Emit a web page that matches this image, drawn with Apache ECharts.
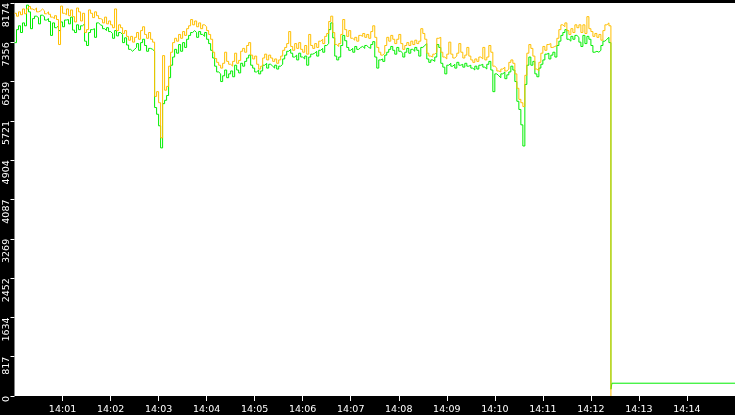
<!DOCTYPE html>
<html>
<head>
<meta charset="utf-8">
<script src="https://cdn.jsdelivr.net/npm/echarts@6/dist/echarts.min.js"></script>
<style>
html,body{margin:0;padding:0;background:#000;}
#chart{width:735px;height:415px;}
</style>
</head>
<body>
<div id="chart"></div>
<script>
// seconds after 14:00:00 between successive samples
const SAMPLE_SEC = 2.5;

// upper (orange) series, one value per sample from 14:00:00
const orangeVals = [
7960,7900,7990,7930,8050,7950,8050,8100,8050,8030,
8070,7990,8010,8050,8010,7950,7990,7940,7880,7850,
7910,7830,7310,8110,7960,7930,8050,7910,8030,7890,
7780,8070,7990,7800,7960,7560,7620,8030,7960,7870,
7990,7910,7850,7830,7760,7880,7740,7800,7720,7660,
8050,7600,7720,7660,7540,7600,7480,7400,7480,7360,
7460,7560,7420,7600,7680,7520,7440,7560,7420,7360,
6230,6330,6100,5370,7080,6360,6440,6860,7150,7350,
7440,7380,7520,7440,7580,7500,7640,7700,7830,7720,
7800,7680,7760,7640,7720,7680,7600,7520,7420,7150,
7020,6940,6880,6820,6920,7150,6960,6900,6860,6960,
7130,6920,6980,7170,7230,7150,7290,7350,7090,7010,
7070,6900,6800,6860,7030,7110,6990,7090,7030,6960,
7010,6920,6990,7070,7190,7250,7330,7580,7270,7190,
7330,7230,7350,7210,7150,7290,7110,7520,7290,7230,
7330,7250,7380,7420,7330,7480,7540,7790,7900,7560,
7310,7270,7330,7520,7830,7620,7480,7600,7440,7400,
7460,7380,7500,7480,7540,7460,7520,7440,7580,7700,
7460,7250,7150,7090,7130,7290,7460,7380,7500,7420,
7330,7420,7520,7330,7210,7290,7350,7290,7380,7310,
7400,7330,7380,7640,7540,7420,7130,7070,7050,7110,
7150,7440,7460,7150,7050,7010,7110,7360,7110,7030,
7070,7130,7330,7150,7030,7090,7250,7070,6990,6940,
7010,6960,7050,7010,7250,6990,7050,7290,7150,6860,
6820,6760,6740,6800,6840,6760,6800,6940,6990,6920,
6700,6400,6170,6100,6020,6670,7130,7310,7230,7070,
6800,6760,6940,7130,7270,7190,7310,7330,7250,7270,
7290,7440,7620,7720,7680,7760,7600,7520,7640,7560,
7720,7660,7720,7560,7720,7540,7890,7640,7580,7480,
7540,7460,7520,7400,7600,7720,7760,7700,0
];

// lower (green) series, same sample times
const greenVals = [
7350,7620,7700,7560,7760,7700,8130,7990,7640,7850,
7900,7870,7740,7920,7890,7820,7850,7790,7500,7760,
7660,7700,7600,7780,7680,7820,7830,7740,7880,7610,
7560,7720,7620,7700,7740,7380,7290,7560,7620,7640,
7460,7760,7720,7700,7640,7600,7660,7580,7540,7440,
7600,7490,7560,7520,7350,7450,7300,7210,7170,7210,
7250,7330,7190,7350,7420,7290,7170,7230,7210,7170,
6000,5860,5620,5160,6080,6150,6250,6620,6880,7050,
7210,7130,7310,7170,7350,7250,7420,7500,7560,7600,
7560,7460,7580,7520,7480,7560,7420,7330,7190,7030,
6860,6740,6700,6540,6660,6780,6620,6700,6760,6640,
6880,6780,6720,6920,6860,6960,7030,7090,6880,6820,
6740,6780,6700,6760,6880,6920,6820,6900,6860,6820,
6880,6800,6860,6900,7010,7090,7170,7210,7130,7050,
7090,6990,7130,7050,7010,7070,6880,7050,7110,7130,
7170,7070,7190,7230,7150,7290,7330,7620,7760,7450,
7070,6990,7050,7290,7500,7390,7250,7190,7230,7150,
7270,7210,7250,7270,7230,7290,7250,7230,7310,7370,
7050,6820,6990,7010,6960,7090,7150,7210,7270,7190,
7110,7250,7170,7130,7050,7150,7230,7130,7210,7170,
7250,7190,7070,7250,7290,7330,7010,6940,6990,6960,
7050,7310,7250,6920,6840,6700,6880,6920,6860,6900,
6820,6940,6880,6900,6840,6920,6860,6880,6820,6780,
6860,6800,6880,6900,6840,6800,6900,6960,6780,6330,
6700,6660,6620,6700,6740,6600,6680,6740,6860,6780,
6540,6130,5960,5640,5200,6480,6880,7050,6880,6960,
6700,6640,6820,6900,6990,7110,7130,7010,7090,7150,
7050,7290,7380,7500,7560,7620,7420,7380,7480,7420,
7500,7460,7360,7270,7500,7330,7480,7420,7290,7150,
7170,7150,7190,7290,7380,7420,7460,7350,140
];

// green continues after the drop (seconds after 14:00:00, value)
const greenTailTimes = [746.25, 900];
const greenTailVals  = [266, 266];

// axis ticks
const xTickValues = [60,120,180,240,300,360,420,480,540,600,660,720,780,840];
const xTickLabels = ['14:01','14:02','14:03','14:04','14:05','14:06','14:07','14:08','14:09','14:10','14:11','14:12','14:13','14:14'];
const yTickValues = [0,817.4,1634.8,2452.2,3269.6,4087,4904.4,5721.8,6539.2,7356.6,8174];
const yTickLabels = ['0','817','1634','2452','3269','4087','4904','5721','6539','7356','8174'];

const orangeData = orangeVals.map((v, i) => [i * SAMPLE_SEC, v]);
const greenData = greenVals.map((v, i) => [i * SAMPLE_SEC, v])
  .concat(greenTailTimes.map((t, i) => [t, greenTailVals[i]]));

const FONT = 'DejaVu Sans';
const chart = echarts.init(document.getElementById('chart'), null, {renderer: 'canvas'});
chart.setOption({
  animation: false,
  backgroundColor: '#000000',
  grid: {
    left: 14.5, right: 0, top: 0, bottom: 16,
    show: true, backgroundColor: '#ffffff', borderWidth: 0
  },
  xAxis: {
    type: 'value', min: 0, max: 900, interval: 60,
    axisLine: {show: false},
    splitLine: {show: false},
    axisTick: {show: true, length: 5, lineStyle: {color: '#ffffff', width: 1}, customValues: xTickValues},
    axisLabel: {
      color: '#ffffff', fontFamily: FONT, fontSize: 9.5, margin: 9,
      customValues: xTickValues,
      formatter: function (v) {
        const k = xTickValues.indexOf(v);
        return k >= 0 ? xTickLabels[k] : '';
      }
    }
  },
  yAxis: {
    type: 'value', min: 0, max: 8174, interval: 817.4,
    axisLine: {show: false},
    splitLine: {show: false},
    axisTick: {show: true, length: 4, lineStyle: {color: '#ffffff', width: 1}, customValues: yTickValues},
    axisLabel: {
      color: '#ffffff', fontFamily: FONT, fontSize: 9.5, margin: 3,
      rotate: 90, align: 'right', verticalAlign: 'bottom',
      customValues: yTickValues,
      formatter: function (v) {
        let best = 0;
        for (let k = 0; k < yTickValues.length; k++) {
          if (Math.abs(yTickValues[k] - v) < Math.abs(yTickValues[best] - v)) best = k;
        }
        return yTickLabels[best];
      }
    }
  },
  series: [
    {
      name: 'green', type: 'line', step: 'end', data: greenData,
      showSymbol: false, symbol: 'none',
      lineStyle: {color: '#00ee00', width: 1},
      itemStyle: {color: '#00ee00'}
    },
    {
      name: 'orange', type: 'line', step: 'end', data: orangeData,
      showSymbol: false, symbol: 'none',
      lineStyle: {color: '#ffbf00', width: 1},
      itemStyle: {color: '#ffbf00'}
    }
  ]
});
</script>
</body>
</html>
